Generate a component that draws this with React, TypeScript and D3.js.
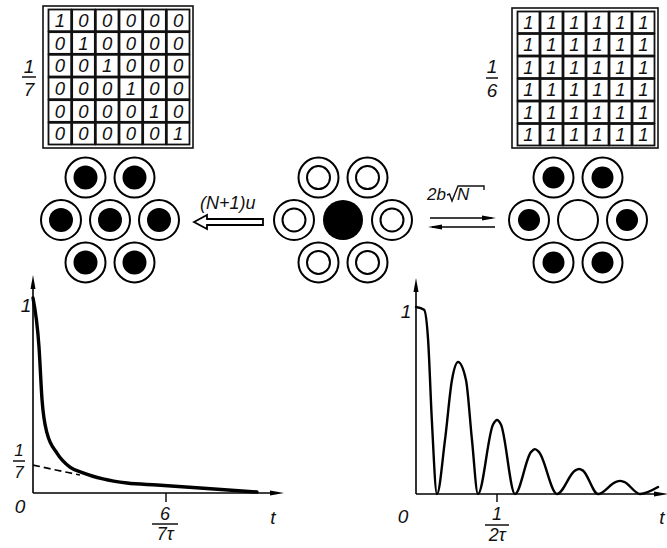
import React from 'react';
import * as d3 from 'd3';

// ---------- data ----------
const matrixLeft = [
  [1, 0, 0, 0, 0, 0],
  [0, 1, 0, 0, 0, 0],
  [0, 0, 1, 0, 0, 0],
  [0, 0, 0, 1, 0, 0],
  [0, 0, 0, 0, 1, 0],
  [0, 0, 0, 0, 0, 1],
];
const matrixRight = [
  [1, 1, 1, 1, 1, 1],
  [1, 1, 1, 1, 1, 1],
  [1, 1, 1, 1, 1, 1],
  [1, 1, 1, 1, 1, 1],
  [1, 1, 1, 1, 1, 1],
  [1, 1, 1, 1, 1, 1],
];
const hexSites = [
  [0, 0], [-1, 0], [1, 0], [-0.5, -0.866], [0.5, -0.866], [-0.5, 0.866], [0.5, 0.866],
];
const statesLeft = ['dot', 'dot', 'dot', 'dot', 'dot', 'dot', 'dot'];
const statesMiddle = ['solid', 'hollow', 'hollow', 'hollow', 'hollow', 'hollow', 'hollow'];
const statesRight = ['empty', 'dot', 'dot', 'dot', 'dot', 'dot', 'dot'];

// left plot (t in units of 6/(7τ))
const leftSolidT = [0, 0.045, 0.068, 0.105, 0.18, 0.278, 0.376, 0.526, 0.707, 0.932, 1.256, 1.684];
const leftSolidP = [1.0, 0.75, 0.477, 0.308, 0.205, 0.133, 0.103, 0.072, 0.051, 0.041, 0.026, 0.005];
const leftDashT = [0, 0.18, 0.353];
const leftDashP = [0.143, 0.117, 0.092];

// right plot (t in units of 1/(2τ))
const rightT = [
  0, 0.1, 0.15, 0.195, 0.259,
  0.358, 0.444, 0.519, 0.617, 0.691, 0.765,
  0.95, 1.0, 1.05, 1.222,
  1.419, 1.469, 1.519, 1.741,
  1.962, 2.012, 2.062, 2.247,
  2.469, 2.519, 2.569, 2.765,
  2.988,
];
const rightP = [
  1, 0.985, 0.82, 0.4, 0,
  0.289, 0.61, 0.706, 0.61, 0.289, 0,
  0.37, 0.396, 0.37, 0,
  0.224, 0.24, 0.224, 0,
  0.125, 0.134, 0.125, 0,
  0.065, 0.07, 0.065, 0,
  0.037,
];

const FONT = "'Liberation Sans', Arial, sans-serif";

function Matrix({ data, x0, x1, y0, y1, frame }: any) {
  const xs = d3.scaleBand<number>().domain(d3.range(6)).range([x0, x1]);
  const ys = d3.scaleBand<number>().domain(d3.range(6)).range([y0, y1]);
  return (
    <g>
      <rect x={frame[0]} y={frame[1]} width={frame[2] - frame[0]} height={frame[3] - frame[1]}
        fill="none" stroke="#111" strokeWidth={1.6} />
      {data.map((row: number[], i: number) =>
        row.map((v: number, j: number) => (
          <g key={i + '-' + j}>
            <rect x={xs(j)! + 0.5} y={ys(i)! + 0.5} width={xs.bandwidth() - 1} height={ys.bandwidth() - 1}
              fill="none" stroke="#111" strokeWidth={1.8} />
            <text x={xs(j)! + xs.bandwidth() / 2} y={ys(i)! + ys.bandwidth() / 2 + 6.5}
              textAnchor="middle" fontSize={18.5} fontStyle="italic" fontFamily={FONT} fill="#111">{v}</text>
          </g>
        ))
      )}
    </g>
  );
}

function Hex({ cx, cy, states }: any) {
  const d = 49;
  return (
    <g>
      {hexSites.map((s, i) => {
        const x = cx + s[0] * d;
        const y = cy + s[1] * d;
        const st = states[i];
        if (st === 'solid') return <circle key={i} cx={x} cy={y} r={20} fill="#000" />;
        if (st === 'empty') return <circle key={i} cx={x} cy={y} r={20} fill="none" stroke="#000" strokeWidth={2} />;
        return (
          <g key={i}>
            <circle cx={x} cy={y} r={20} fill="none" stroke="#000" strokeWidth={2} />
            {st === 'dot'
              ? <circle cx={x} cy={y} r={cx < 300 ? 12 : 11} fill="#000" />
              : <circle cx={x} cy={y} r={11.5} fill="none" stroke="#000" strokeWidth={2} />}
          </g>
        );
      })}
    </g>
  );
}

function Frac({ x, top, line, bottom, num, den, size = 16, w = 13 }: any) {
  return (
    <g fontFamily={FONT} fontStyle="italic" fontSize={size} fill="#111">
      <text x={x} y={top} textAnchor="middle">{num}</text>
      <line x1={x - w} x2={x + w} y1={line} y2={line} stroke="#111" strokeWidth={1.5} />
      <text x={x} y={bottom} textAnchor="middle">{den}</text>
    </g>
  );
}

export default function App() {
  // left plot scales
  const xL = d3.scaleLinear().domain([0, 1]).range([33, 166]);
  const yL = d3.scaleLinear().domain([0, 1]).range([493, 298]);
  // right plot scales
  const xR = d3.scaleLinear().domain([0, 1]).range([416, 497]);
  const yR = d3.scaleLinear().domain([0, 1]).range([494, 307]);

  const lineL = d3.line<number>().x((_, i) => xL(leftSolidT[i])).y((p) => yL(p)).curve(d3.curveMonotoneX);
  const dashL = d3.line<number>().x((_, i) => xL(leftDashT[i])).y((p) => yL(p)).curve(d3.curveMonotoneX);
  const lineR = d3.line<number>().x((_, i) => xR(rightT[i])).y((p) => yR(p)).curve(d3.curveMonotoneX);

  const arrowUp = (x: number, tip: number) => `M${x},${tip} L${x - 2.5},${tip + 14} L${x + 2.5},${tip + 14} Z`;
  const arrowRight = (tip: number, y: number) => `M${tip},${y} L${tip - 14},${y - 2.5} L${tip - 14},${y + 2.5} Z`;

  return (
    <svg width={667} height={548} style={{ position: 'absolute', left: 0, top: 0, background: '#fff' }}>
      <rect x={0} y={0} width={667} height={548} fill="#fff" />

      {/* matrices */}
      <Matrix data={matrixLeft} x0={48} x1={190} y0={9} y1={145} frame={[43, 6, 193, 148]} />
      <Matrix data={matrixRight} x0={517} x1={655} y0={11} y1={146} frame={[512, 8, 658, 148]} />
      <Frac x={29} top={73} line={77} bottom={96} num="1" den="7" size={19} w={7} />
      <Frac x={492} top={73} line={78} bottom={97} num="1" den="6" size={19} w={6} />

      {/* configurations */}
      <Hex cx={110} cy={220} states={statesLeft} />
      <Hex cx={343} cy={220} states={statesMiddle} />
      <Hex cx={578} cy={220} states={statesRight} />

      {/* hollow arrow */}
      <path d="M194,222 L207,215 L207,219 L263,219 L263,225 L207,225 L207,229 Z" fill="#fff" stroke="#000" strokeWidth={1.8} strokeLinejoin="miter" />
      <text x={200} y={209} fontSize={18} fontStyle="italic" fontFamily={FONT} fill="#111">(N+1)u</text>

      {/* double arrows */}
      <line x1={430} x2={492} y1={218} y2={218} stroke="#000" strokeWidth={1.5} />
      <path d="M496,218 L482,215.5 L482,220.5 Z" fill="#000" />
      <line x1={432} x2={495} y1={227} y2={227} stroke="#000" strokeWidth={1.5} />
      <path d="M428,227 L442,224.5 L442,229.5 Z" fill="#000" />
      <g fontSize={17} fontStyle="italic" fontFamily={FONT} fill="#111">
        <text x={427} y={200}>2b</text>
        <text x={457} y={200}>N</text>
      </g>
      <path d="M447,195 L449.5,194 L452,201 L458,186 L484,186 L484,190" fill="none" stroke="#111" strokeWidth={1.4} />

      {/* left plot */}
      <line x1={33} x2={33} y1={493} y2={285} stroke="#000" strokeWidth={1.6} />
      <path d={arrowUp(33, 275)} fill="#000" />
      <line x1={33} x2={272} y1={493} y2={493} stroke="#000" strokeWidth={1.6} />
      <path d={arrowRight(284, 493)} fill="#000" />
      <line x1={xL(1)} x2={xL(1)} y1={493} y2={502} stroke="#000" strokeWidth={1.4} />
      <path d={dashL(leftDashP) || ''} fill="none" stroke="#000" strokeWidth={1.6} strokeDasharray="7,4" />
      <path d={lineL(leftSolidP) || ''} fill="none" stroke="#000" strokeWidth={3.4} strokeLinecap="round" />
      <g fontFamily={FONT} fontStyle="italic" fontSize={19} fill="#111">
        <text x={26} y={312} textAnchor="middle">1</text>
        <text x={20} y={513} textAnchor="middle">0</text>
        <text x={273} y={524} textAnchor="middle">t</text>
      </g>
      <Frac x={19} top={456} line={461} bottom={478} num="1" den="7" size={17} w={6} />
      <Frac x={165} top={520} line={524} bottom={540} num="6" den="7τ" size={18} w={13} />

      {/* right plot */}
      <line x1={416} x2={416} y1={494} y2={290} stroke="#000" strokeWidth={1.6} />
      <path d={arrowUp(416, 278)} fill="#000" />
      <line x1={416} x2={655} y1={494} y2={494} stroke="#000" strokeWidth={1.6} />
      <path d={arrowRight(668, 494)} fill="#000" />
      <line x1={xR(1)} x2={xR(1)} y1={494} y2={502} stroke="#000" strokeWidth={1.4} />
      <path d={lineR(rightP) || ''} fill="none" stroke="#000" strokeWidth={2.4} strokeLinecap="round" />
      <g fontFamily={FONT} fontStyle="italic" fontSize={19} fill="#111">
        <text x={406} y={318} textAnchor="middle">1</text>
        <text x={403} y={523} textAnchor="middle">0</text>
        <text x={662} y={524} textAnchor="middle">t</text>
      </g>
      <Frac x={497} top={520} line={525} bottom={541} num="1" den="2τ" size={18} w={12} />
    </svg>
  );
}
